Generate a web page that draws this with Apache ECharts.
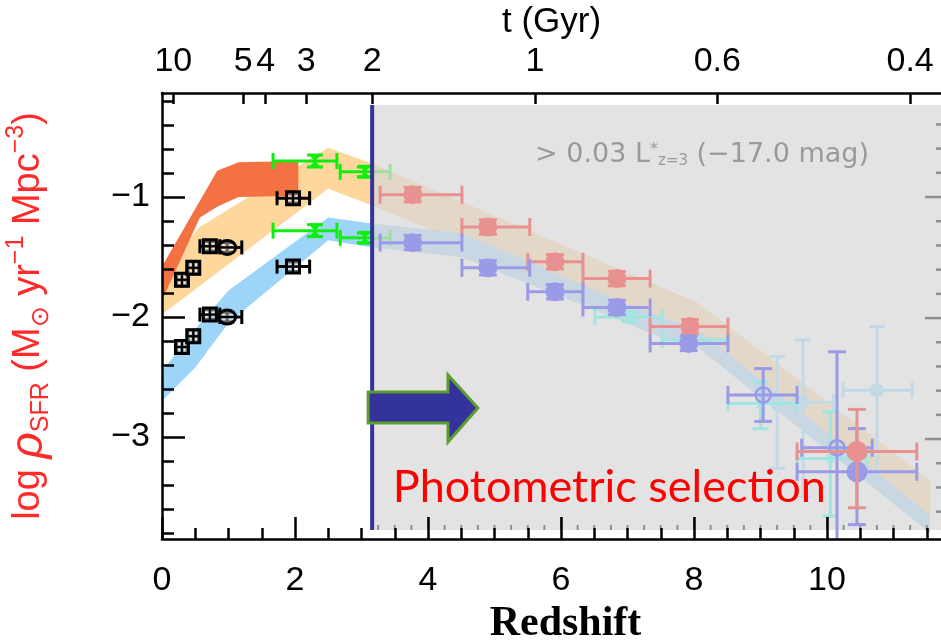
<!DOCTYPE html>
<html>
<head>
<meta charset="utf-8">
<script src="https://cdn.jsdelivr.net/npm/echarts@6/dist/echarts.min.js"></script>
<style>
  html, body { margin: 0; padding: 0; background: #ffffff; }
  #chart { width: 941px; height: 640px; }
</style>
</head>
<body>
<div id="chart"></div>
<script>
// Cosmic star-formation-rate density versus redshift

// ---- tick labels ----
const ageLabels = [10, 5, 4, 3, 2, 1, 0.6, 0.4];          // t (Gyr) on the top axis
const ageTickZ  = [0.17, 1.22, 1.56, 2.17, 3.16, 5.61, 8.35, 11.25];
const zMajorTicks = [0, 2, 4, 6, 8, 10];
const yMajorTicks = [-1, -2, -3];

// ---- bands (redshift, upper / lower log SFRD) ----
const dustBandZ  = [0, 0.57, 0.83, 1.15, 2.05];
const dustBandHi = [-1.58, -1.03, -0.78, -0.71, -0.70];
const dustBandLo = [-1.86, -1.17, -1.08, -1.00, -0.99];

const totalBandZ  = [0, 0.57, 2.5, 3.16, 8.05, 11.55];
const totalBandHi = [-1.62, -1.25, -0.59, -0.72, -1.88, -3.36];
const totalBandLo = [-1.98, -1.74, -0.93, -1.07, -2.19, -3.72];

const uvBandZ  = [0, 0.5, 1.0, 2.5, 3.16, 4.5, 5.5, 6.5, 7.5, 8.05, 11.55];
const uvBandHi = [-2.45, -2.10, -1.78, -1.17, -1.22, -1.30, -1.53, -1.78, -2.00, -2.10, -3.65];
const uvBandLo = [-2.70, -2.42, -2.05, -1.36, -1.42, -1.50, -1.72, -1.94, -2.17, -2.25, -3.80];

// ---- measurements: [z, logSFRD, zLow, zHigh, logLow, logHigh] ----
const lowzCorrSquares = [
  [0.30, -1.69, 0.22, 0.38, -1.74, -1.64],
  [0.47, -1.59, 0.39, 0.55, -1.64, -1.54],
  [0.72, -1.41, 0.57, 0.87, -1.45, -1.37],
  [1.97, -1.01, 1.73, 2.22, -1.05, -0.97]
];
const lowzCorrCircles = [
  [0.98, -1.42, 0.87, 1.20, -1.46, -1.38]
];
const lowzUncSquares = [
  [0.30, -2.25, 0.22, 0.38, -2.30, -2.20],
  [0.47, -2.16, 0.39, 0.55, -2.21, -2.11],
  [0.72, -1.98, 0.57, 0.87, -2.02, -1.94],
  [1.97, -1.58, 1.73, 2.22, -1.62, -1.54]
];
const lowzUncCircles = [
  [0.98, -2.00, 0.87, 1.20, -2.04, -1.96]
];
const irCorr = [
  [2.30, -0.70, 1.67, 2.63, -0.75, -0.65],
  [3.05, -0.79, 2.68, 3.43, -0.83, -0.75]
];
const irUnc = [
  [2.30, -1.28, 1.67, 2.63, -1.33, -1.23],
  [3.05, -1.34, 2.68, 3.43, -1.38, -1.30]
];
const lbgCorr = [
  [3.77, -0.98, 3.28, 4.51, -1.04, -0.92],
  [4.90, -1.25, 4.51, 5.53, -1.31, -1.19],
  [5.91, -1.54, 5.50, 6.33, -1.60, -1.48],
  [6.84, -1.68, 6.33, 7.34, -1.74, -1.62],
  [7.94, -2.08, 7.34, 8.51, -2.14, -2.02]
];
const lbgCorrZ10 = [
  [10.45, -3.12, 9.55, 11.35, -3.59, -2.77]
];
const lbgUnc = [
  [3.77, -1.38, 3.28, 4.51, -1.44, -1.32],
  [4.90, -1.59, 4.51, 5.53, -1.65, -1.53],
  [5.91, -1.79, 5.50, 6.33, -1.85, -1.73],
  [6.84, -1.92, 6.33, 7.34, -1.98, -1.86],
  [7.92, -2.22, 7.34, 8.51, -2.28, -2.16]
];
const lbgUncOpen = [
  [9.04, -2.65, 8.51, 9.55, -2.87, -2.43],
  [10.15, -3.09, 9.62, 10.68, -3.95, -2.29]
];
const lbgUncZ10 = [
  [10.45, -3.29, 9.55, 11.35, -3.73, -2.93]
];
const otherUnc = [
  [7.04, -2.00, 6.51, 7.52, -2.04, -1.96],
  [8.00, -2.19, 7.52, 8.51, -2.23, -2.15],
  [9.00, -2.72, 8.51, 9.55, -2.93, -2.54],
  [10.05, -3.18, 9.55, 10.60, -3.66, -2.79]
];
const lensedUnc = [
  [9.25, -2.72, 9.00, 9.50, -3.26, -2.33],
  [9.64, -2.71, 9.20, 10.10, -3.50, -2.19],
  [10.75, -2.61, 10.24, 11.28, -3.36, -2.08]
];

// ---- axis ranges ----
const Z_MIN = 0, Z_MAX = 11.714;
const Y_MIN = -3.85, Y_MAX = -0.133;
// shaded panel: its own ticks along the bottom (redshift) and the right edge
const PANEL = { z0: 3.16, top: -0.233, bottom: -3.775 };
const panelZMajor = [4, 6, 8, 10];
const panelYMajor = [-1.0, -2.008, -3.017];   // right-edge major ticks in plot units
const PANEL_Y_STEP = 0.2017;

function steps(from, to, step) {
  const out = [];
  for (let v = from; v <= to + 1e-9; v += step) out.push(Math.round(v * 1000) / 1000);
  return out;
}

const FONT = 'Liberation Sans';
const BLACK = '#000000';
const GRAY_TICK = '#8f8f8f';

function bandSeries(zs, hi, lo, color, z) {
  return {
    type: 'custom', coordinateSystem: 'cartesian2d', clip: true, silent: true, z: z,
    data: [[zs[0], hi[0]]],
    renderItem: function (params, api) {
      const pts = [];
      for (let i = 0; i < zs.length; i++) pts.push(api.coord([zs[i], hi[i]]));
      for (let i = zs.length - 1; i >= 0; i--) pts.push(api.coord([zs[i], lo[i]]));
      return { type: 'polygon', shape: { points: pts }, style: { fill: color } };
    }
  };
}

function markerShape(kind, c, color) {
  const x = c[0], y = c[1];
  switch (kind) {
    case 'square':
      return [
        { type: 'rect', shape: { x: x - 6.5, y: y - 6.5, width: 13, height: 13 }, style: { fill: 'rgba(255,255,255,0.4)', stroke: color, lineWidth: 3 } },
        { type: 'line', shape: { x1: x - 6.5, y1: y, x2: x + 6.5, y2: y }, style: { stroke: color, lineWidth: 2 } },
        { type: 'line', shape: { x1: x, y1: y - 6.5, x2: x, y2: y + 6.5 }, style: { stroke: color, lineWidth: 2 } }
      ];
    case 'circle':
      return [
        { type: 'ellipse', shape: { cx: x, cy: y, rx: 8.5, ry: 7 }, style: { fill: 'rgba(255,255,255,0.4)', stroke: color, lineWidth: 3 } },
        { type: 'line', shape: { x1: x - 8.5, y1: y, x2: x + 8.5, y2: y }, style: { stroke: color, lineWidth: 2 } }
      ];
    case 'hourglass':
      return [
        { type: 'polygon', shape: { points: [[x - 7, y - 7], [x + 7, y - 7], [x - 7, y + 7], [x + 7, y + 7]] }, style: { fill: color } }
      ];
    case 'smallglass':
      return [
        { type: 'polygon', shape: { points: [[x - 5, y - 4], [x + 5, y - 4], [x - 5, y + 4], [x + 5, y + 4]] }, style: { fill: color } }
      ];
    case 'blob':
      return [{ type: 'circle', shape: { cx: x, cy: y, r: 9.5 }, style: { fill: color } }];
    case 'dot':
      return [{ type: 'circle', shape: { cx: x, cy: y, r: 10.5 }, style: { fill: color } }];
    case 'smalldot':
      return [{ type: 'circle', shape: { cx: x, cy: y, r: 7 }, style: { fill: color } }];
    case 'ring':
      return [{ type: 'circle', shape: { cx: x, cy: y, r: 7.5 }, style: { fill: 'none', stroke: color, lineWidth: 2.5 } }];
  }
  return [];
}

function pointSeries(rows, kind, color, opts) {
  const lw = opts.lineWidth, cap = opts.cap, z = opts.z;
  return {
    type: 'custom', coordinateSystem: 'cartesian2d', clip: true, silent: true, z: z,
    data: rows,
    renderItem: function (params, api) {
      const zc = api.value(0), v = api.value(1);
      const c = api.coord([zc, v]);
      const l = api.coord([api.value(2), v]);
      const r = api.coord([api.value(3), v]);
      const b = api.coord([zc, api.value(4)]);
      const t = api.coord([zc, api.value(5)]);
      const st = { stroke: color, lineWidth: lw };
      const kids = [
        { type: 'line', shape: { x1: l[0], y1: l[1], x2: r[0], y2: r[1] }, style: st },
        { type: 'line', shape: { x1: l[0], y1: l[1] - cap, x2: l[0], y2: l[1] + cap }, style: st },
        { type: 'line', shape: { x1: r[0], y1: r[1] - cap, x2: r[0], y2: r[1] + cap }, style: st },
        { type: 'line', shape: { x1: b[0], y1: b[1], x2: t[0], y2: t[1] }, style: st },
        { type: 'line', shape: { x1: b[0] - cap, y1: b[1], x2: b[0] + cap, y2: b[1] }, style: st },
        { type: 'line', shape: { x1: t[0] - cap, y1: t[1], x2: t[0] + cap, y2: t[1] }, style: st }
      ];
      return { type: 'group', children: kids.concat(markerShape(kind, c, color)) };
    }
  };
}

const SALMON = '#e89190';
const LAVENDER = '#9a9ae6';
const AQUA = '#9fe6e2';
const PALEBLUE = '#c4d9e6';
const LIME = '#10ee10';

const option = {
  animation: false,
  textStyle: { fontFamily: FONT },
  grid: { left: 162, top: 93, right: 0, bottom: 101, containLabel: false, outerBoundsMode: 'none' },
  xAxis: [
    { // redshift, major
      type: 'value', position: 'bottom', min: Z_MIN, max: Z_MAX, z: 10,
      name: 'Redshift', nameLocation: 'middle', nameGap: 64,
      nameTextStyle: { fontFamily: 'Liberation Serif', fontWeight: 'bold', fontSize: 42, color: BLACK, padding: [0, 0, 0, 28] },
      axisLine: { show: true, lineStyle: { color: BLACK, width: 2.5 } },
      axisTick: { show: true, inside: true, length: 22, customValues: zMajorTicks, lineStyle: { color: BLACK, width: 2.5 } },
      axisLabel: { show: true, customValues: zMajorTicks, fontSize: 34, color: BLACK, margin: 25, fontFamily: FONT, hideOverlap: false },
      splitLine: { show: false }
    },
    { // redshift, minor ticks
      type: 'value', position: 'bottom', min: Z_MIN, max: Z_MAX, z: 10,
      axisLine: { show: false },
      axisTick: { show: true, inside: true, length: 11, customValues: steps(0.5, 11.5, 0.5), lineStyle: { color: BLACK, width: 2.5 } },
      axisLabel: { show: false }, splitLine: { show: false }
    },
    { // cosmic time
      type: 'value', position: 'top', min: Z_MIN, max: Z_MAX, z: 10,
      name: 't (Gyr)', nameLocation: 'middle', nameGap: 46,
      nameTextStyle: { fontSize: 35, color: BLACK, fontFamily: FONT },
      axisLine: { show: true, lineStyle: { color: BLACK, width: 2.5 } },
      axisTick: { show: true, inside: true, length: 11, customValues: ageTickZ, lineStyle: { color: BLACK, width: 2.5 } },
      axisLabel: {
        show: true, customValues: ageTickZ, fontSize: 34, color: BLACK, margin: 14, fontFamily: FONT, hideOverlap: false,
        formatter: function (v) { const i = ageTickZ.indexOf(v); return i >= 0 ? String(ageLabels[i]) : ''; }
      },
      splitLine: { show: false }
    }
  ],
  yAxis: [
    { // log SFRD, major
      type: 'value', position: 'left', min: Y_MIN, max: Y_MAX, z: 10,
      name: 'log {rho|ρ}{sub|SFR} (M{sub|⊙} yr{sup|−1} Mpc{sup|−3})',
      nameLocation: 'middle', nameGap: 108,
      nameTextStyle: {
        color: '#ff2a2a', fontSize: 38, fontFamily: FONT, lineHeight: 50,
        rich: {
          rho: { color: '#ff2a2a', fontSize: 46, fontStyle: 'italic', fontFamily: FONT, lineHeight: 50 },
          sub: { color: '#ff2a2a', fontSize: 25, fontFamily: FONT, verticalAlign: 'bottom', lineHeight: 50 },
          sup: { color: '#ff2a2a', fontSize: 25, fontFamily: FONT, verticalAlign: 'top', lineHeight: 50 }
        }
      },
      axisLine: { show: true, lineStyle: { color: BLACK, width: 2.5 } },
      axisTick: { show: true, inside: true, length: 23, customValues: yMajorTicks, lineStyle: { color: BLACK, width: 2.5 } },
      axisLabel: {
        show: true, customValues: yMajorTicks, fontSize: 34, color: BLACK, margin: 12, fontFamily: FONT,
        formatter: function (v) { return String(v).replace('-', '−'); }
      },
      splitLine: { show: false }
    },
    { // log SFRD, minor ticks
      type: 'value', position: 'left', min: Y_MIN, max: Y_MAX, z: 10,
      axisLine: { show: false },
      axisTick: { show: true, inside: true, length: 12, customValues: steps(-3.8, -0.2, 0.2), lineStyle: { color: BLACK, width: 2.5 } },
      axisLabel: { show: false }, splitLine: { show: false }
    }
  ],
  series: [
    bandSeries(totalBandZ, totalBandHi, totalBandLo, '#fdd79c', 1),
    bandSeries(uvBandZ, uvBandHi, uvBandLo, '#9dd5f8', 1),
    bandSeries(dustBandZ, dustBandHi, dustBandLo, '#f37142', 1),

    pointSeries(irCorr, 'hourglass', LIME, { lineWidth: 3, cap: 8, z: 2 }),
    pointSeries(irUnc, 'hourglass', LIME, { lineWidth: 3, cap: 8, z: 2 }),
    pointSeries(lowzCorrSquares, 'square', BLACK, { lineWidth: 3, cap: 7, z: 2 }),
    pointSeries(lowzCorrCircles, 'circle', BLACK, { lineWidth: 3, cap: 7, z: 2 }),
    pointSeries(lowzUncSquares, 'square', BLACK, { lineWidth: 3, cap: 7, z: 2 }),
    pointSeries(lowzUncCircles, 'circle', BLACK, { lineWidth: 3, cap: 7, z: 2 }),

    { // shaded panel for the photometrically selected samples, with its own tick marks
      type: 'custom', coordinateSystem: 'cartesian2d', clip: true, silent: true, z: 3,
      data: [[PANEL.z0, PANEL.top]],
      renderItem: function (params, api) {
        const a = api.coord([PANEL.z0, PANEL.top]);
        const b = api.coord([Z_MAX, PANEL.bottom]);
        const kids = [{ type: 'rect', shape: { x: a[0], y: a[1], width: b[0] - a[0], height: b[1] - a[1] }, style: { fill: 'rgba(216,216,216,0.72)' } }];
        const tickStyle = { stroke: GRAY_TICK, lineWidth: 2 };
        // bottom edge: minor every 0.25, major every 2
        steps(3.25, 11.5, 0.25).forEach(function (zv) {
          const p = api.coord([zv, PANEL.bottom]);
          const len = panelZMajor.indexOf(zv) >= 0 ? 13 : 5;
          kids.push({ type: 'line', shape: { x1: p[0], y1: p[1], x2: p[0], y2: p[1] - len }, style: tickStyle });
        });
        // right edge
        const xr = b[0];
        for (let k = -16; k <= 17; k++) {
          const yv = panelYMajor[0] + k * PANEL_Y_STEP;
          if (yv > PANEL.top - 0.05 || yv < PANEL.bottom) continue;
          const p = api.coord([Z_MAX, yv]);
          const len = (k % 5 === 0) ? 16 : 5;
          kids.push({ type: 'line', shape: { x1: xr, y1: p[1], x2: xr - len, y2: p[1] }, style: { stroke: GRAY_TICK, lineWidth: 2.5 } });
        }
        return { type: 'group', children: kids };
      }
    },

    pointSeries(lensedUnc, 'smalldot', PALEBLUE, { lineWidth: 3, cap: 8, z: 4 }),
    pointSeries(otherUnc, 'smallglass', AQUA, { lineWidth: 3, cap: 8, z: 4 }),
    pointSeries(lbgCorr, 'blob', SALMON, { lineWidth: 3, cap: 9, z: 5 }),
    pointSeries(lbgUnc, 'blob', LAVENDER, { lineWidth: 3, cap: 9, z: 5 }),
    pointSeries(lbgUncOpen, 'ring', LAVENDER, { lineWidth: 3, cap: 9, z: 5 }),
    pointSeries(lbgUncZ10, 'dot', LAVENDER, { lineWidth: 3, cap: 9, z: 5 }),
    pointSeries(lbgCorrZ10, 'dot', SALMON, { lineWidth: 3, cap: 9, z: 5 }),

    { // boundary of the photometric selection
      type: 'custom', coordinateSystem: 'cartesian2d', clip: true, silent: true, z: 6,
      data: [[PANEL.z0, PANEL.top]],
      renderItem: function (params, api) {
        const a = api.coord([PANEL.z0, PANEL.top]);
        const b = api.coord([PANEL.z0, PANEL.bottom]);
        return { type: 'line', shape: { x1: a[0], y1: a[1], x2: b[0], y2: b[1] }, style: { stroke: '#333399', lineWidth: 4 } };
      }
    }
  ]
};

const chart = echarts.init(document.getElementById('chart'), null, { renderer: 'canvas' });
chart.setOption(option);

// annotations placed in data space
const toPx = function (p) { return chart.convertToPixel({ xAxisIndex: 0, yAxisIndex: 0 }, p); };
const arrowPts = [
  [3.10, -2.625], [4.30, -2.625], [4.30, -2.483], [4.75, -2.758],
  [4.30, -3.042], [4.30, -2.883], [3.10, -2.883]
].map(toPx);
const limLabel = toPx([5.61, -0.65]);
const photLabel = toPx([3.47, -3.42]);

chart.setOption({
  graphic: [
    { type: 'polygon', z: 20, shape: { points: arrowPts }, style: { fill: '#333399', stroke: '#5e9b30', lineWidth: 3 } },
    {
      type: 'text', z: 20, x: limLabel[0], y: limLabel[1],
      style: {
        text: '> 0.03 L{sup|*}{sub|z=3} (−17.0 mag)', fill: '#9a9a9a', fontSize: 27, fontFamily: 'DejaVu Sans',
        verticalAlign: 'middle', align: 'left',
        rich: {
          sup: { fill: '#9a9a9a', fontSize: 16, fontFamily: 'DejaVu Sans', verticalAlign: 'top' },
          sub: { fill: '#9a9a9a', fontSize: 15, fontFamily: 'DejaVu Sans', verticalAlign: 'bottom' }
        }
      }
    },
    {
      type: 'text', z: 20, x: photLabel[0], y: photLabel[1],
      style: { text: 'Photometric selection', fill: '#ff0000', fontSize: 45, fontFamily: 'Lato', verticalAlign: 'middle', align: 'left' }
    }
  ]
});
</script>
</body>
</html>
